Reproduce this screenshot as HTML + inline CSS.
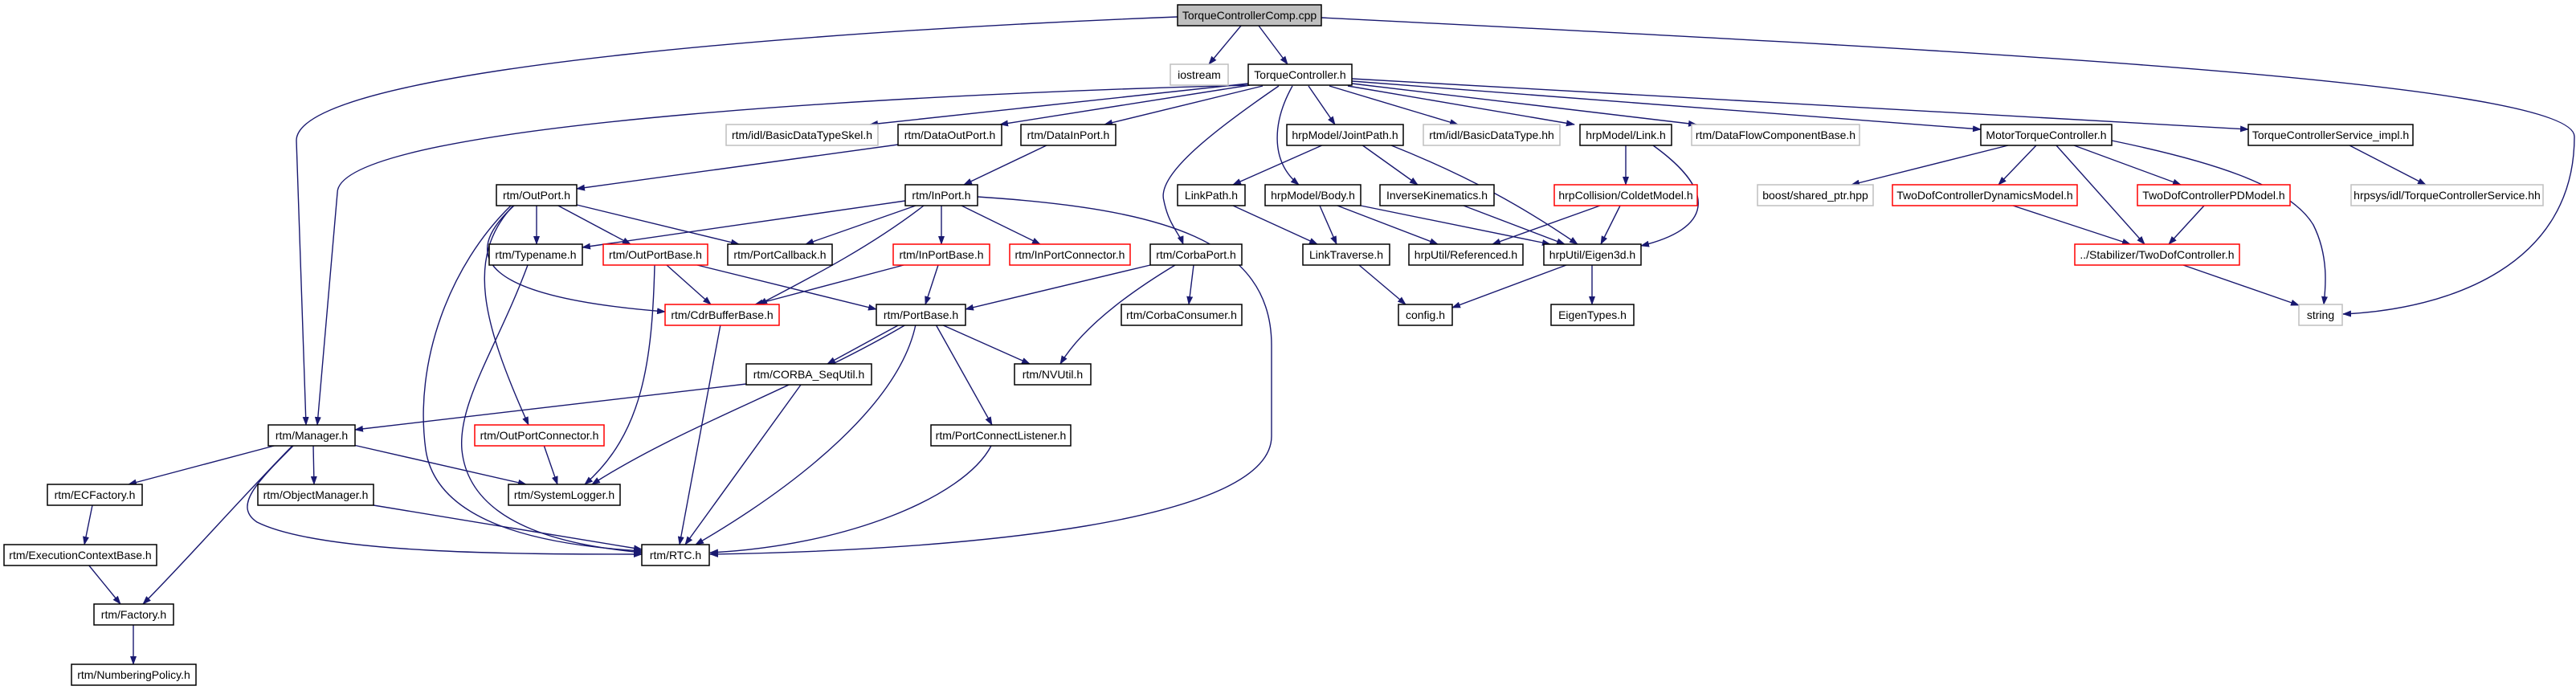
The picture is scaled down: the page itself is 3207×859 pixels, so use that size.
<!DOCTYPE html>
<html><head><meta charset="utf-8"><style>
html,body{margin:0;padding:0;background:#fff;}
svg{display:block}
text{font-family:"Liberation Sans",Arial,sans-serif;font-size:14px;fill:#000}
</style></head><body>
<svg width="3207" height="859" viewBox="0 0 3207 859" xmlns="http://www.w3.org/2000/svg">
<defs>
<marker id="a" markerWidth="11" markerHeight="8" refX="10" refY="4" orient="auto" markerUnits="userSpaceOnUse">
<path d="M0,0 L11,4 L0,8 z" fill="#191970"/>
</marker>
</defs>
<g fill="none" stroke="#191970" stroke-width="1.4" marker-end="url(#a)">
<path d="M1545,32 L1505,80"/>
<path d="M1567,32 L1603,80"/>
<path d="M1466,21 C1100,35 369,80 369,175 L381,529"/>
<path d="M1554,106 C1200,115 420,150 420,240 L395,529"/>
<path d="M1645,22 C2400,60 3205,100 3205,170 C3205,330 3050,385 2917,391"/>
<path d="M1554,104 L1083,155"/>
<path d="M1556,106 L1245,155"/>
<path d="M1572,107 L1375,155"/>
<path d="M1592,107 C1500,170 1440,220 1449,250 C1455,280 1468,290 1473,304"/>
<path d="M1609,107 C1585,150 1580,200 1617,230"/>
<path d="M1629,107 L1662,155"/>
<path d="M1655,107 L1815,155"/>
<path d="M1678,107 L1960,155"/>
<path d="M1683,104 L2112,155"/>
<path d="M1683,101 L2466,161"/>
<path d="M1683,98 L2799,161"/>
<path d="M1118,180 L718,235"/>
<path d="M1305,180 L1200,230"/>
<path d="M668,255 L668,304"/>
<path d="M693,255 L785,304"/>
<path d="M718,255 L920,304"/>
<path d="M640,256 C570,320 600,370 828,388"/>
<path d="M636,256 C560,330 515,450 530,560 C545,660 700,680 799,686"/>
<path d="M657,330 C620,430 570,500 575,560 C585,660 720,680 799,688"/>
<path d="M638,257 C580,320 600,400 658,529"/>
<path d="M830,330 L885,379"/>
<path d="M868,330 L1091,385"/>
<path d="M815,330 C812,450 800,540 728,603"/>
<path d="M897,404 L846,678"/>
<path d="M1127,250 L725,308"/>
<path d="M1140,256 L1003,304"/>
<path d="M1150,256 C1080,310 1000,350 945,379"/>
<path d="M1125,330 L940,379"/>
<path d="M1172,256 L1172,304"/>
<path d="M1197,256 L1295,304"/>
<path d="M1217,245 C1450,260 1583,300 1583,430 L1583,543 C1583,650 1200,685 884,690"/>
<path d="M1168,330 L1152,379"/>
<path d="M1432,330 L1202,385"/>
<path d="M1486,330 L1480,379"/>
<path d="M1463,330 C1380,380 1340,420 1320,453"/>
<path d="M1120,404 L1030,453"/>
<path d="M1172,404 L1282,453"/>
<path d="M1165,404 L1235,529"/>
<path d="M1140,404 C1120,500 1000,600 866,678"/>
<path d="M1128,404 C1000,480 850,530 737,603"/>
<path d="M929,478 L442,535"/>
<path d="M997,479 L853,678"/>
<path d="M1234,555 C1200,620 1050,680 884,688"/>
<path d="M345,554 L160,603"/>
<path d="M390,554 L391,603"/>
<path d="M440,554 L655,603"/>
<path d="M365,554 C300,620 230,700 178,752"/>
<path d="M366,554 C320,600 290,630 320,650 C400,690 650,690 799,690"/>
<path d="M465,629 L799,684"/>
<path d="M677,554 L694,603"/>
<path d="M115,629 L105,678"/>
<path d="M110,703 L150,752"/>
<path d="M166,778 L166,827"/>
<path d="M1648,180 L1535,230"/>
<path d="M1695,180 L1765,230"/>
<path d="M1732,181 C1830,220 1900,260 1964,304"/>
<path d="M2024,181 L2024,230"/>
<path d="M2058,181 C2140,240 2130,285 2043,306"/>
<path d="M1535,256 L1640,304"/>
<path d="M1643,256 L1664,304"/>
<path d="M1665,256 L1790,304"/>
<path d="M1694,256 L1930,304"/>
<path d="M1822,256 L1948,304"/>
<path d="M1992,256 L1858,304"/>
<path d="M2017,256 L1993,304"/>
<path d="M1692,330 L1750,379"/>
<path d="M1950,330 L1808,383"/>
<path d="M1982,330 L1982,379"/>
<path d="M2500,181 L2305,230"/>
<path d="M2535,181 L2488,230"/>
<path d="M2560,181 L2670,304"/>
<path d="M2582,181 L2715,230"/>
<path d="M2629,175 C2750,200 2850,230 2880,280 C2900,320 2895,360 2893,379"/>
<path d="M2506,256 L2652,304"/>
<path d="M2744,256 L2700,304"/>
<path d="M2718,330 L2862,380"/>
<path d="M2925,181 L3020,230"/>
</g>
<g stroke-width="1.5">
<!-- row0 -->
<rect x="1466" y="6" width="179" height="26" fill="#bfbfbf" stroke="#000"/><text x="1555.5" y="24" text-anchor="middle">TorqueControllerComp.cpp</text>
<!-- row1 -->
<rect x="1457" y="80" width="72" height="26" fill="#fff" stroke="#bfbfbf"/><text x="1493" y="98" text-anchor="middle">iostream</text>
<rect x="1554" y="80" width="129" height="26" fill="#fff" stroke="#000"/><text x="1618.5" y="98" text-anchor="middle">TorqueController.h</text>
<!-- row2 -->
<rect x="904" y="155" width="189" height="26" fill="#fff" stroke="#bfbfbf"/><text x="998.5" y="173" text-anchor="middle">rtm/idl/BasicDataTypeSkel.h</text>
<rect x="1118" y="155" width="129" height="26" fill="#fff" stroke="#000"/><text x="1182.5" y="173" text-anchor="middle">rtm/DataOutPort.h</text>
<rect x="1271" y="155" width="118" height="26" fill="#fff" stroke="#000"/><text x="1330" y="173" text-anchor="middle">rtm/DataInPort.h</text>
<rect x="1602" y="155" width="145" height="26" fill="#fff" stroke="#000"/><text x="1674.5" y="173" text-anchor="middle">hrpModel/JointPath.h</text>
<rect x="1772" y="155" width="170" height="26" fill="#fff" stroke="#bfbfbf"/><text x="1857" y="173" text-anchor="middle">rtm/idl/BasicDataType.hh</text>
<rect x="1967" y="155" width="114" height="26" fill="#fff" stroke="#000"/><text x="2024" y="173" text-anchor="middle">hrpModel/Link.h</text>
<rect x="2106" y="155" width="209" height="26" fill="#fff" stroke="#bfbfbf"/><text x="2210.5" y="173" text-anchor="middle">rtm/DataFlowComponentBase.h</text>
<rect x="2466" y="155" width="163" height="26" fill="#fff" stroke="#000"/><text x="2547.5" y="173" text-anchor="middle">MotorTorqueController.h</text>
<rect x="2799" y="155" width="205" height="26" fill="#fff" stroke="#000"/><text x="2901.5" y="173" text-anchor="middle">TorqueControllerService_impl.h</text>
<!-- row3 -->
<rect x="618" y="230" width="100" height="26" fill="#fff" stroke="#000"/><text x="668" y="248" text-anchor="middle">rtm/OutPort.h</text>
<rect x="1127" y="230" width="90" height="26" fill="#fff" stroke="#000"/><text x="1172" y="248" text-anchor="middle">rtm/InPort.h</text>
<rect x="1466" y="230" width="84" height="26" fill="#fff" stroke="#000"/><text x="1508" y="248" text-anchor="middle">LinkPath.h</text>
<rect x="1575" y="230" width="119" height="26" fill="#fff" stroke="#000"/><text x="1634.5" y="248" text-anchor="middle">hrpModel/Body.h</text>
<rect x="1718" y="230" width="142" height="26" fill="#fff" stroke="#000"/><text x="1789" y="248" text-anchor="middle">InverseKinematics.h</text>
<rect x="1935" y="230" width="178" height="26" fill="#fff" stroke="#ff0000"/><text x="2024" y="248" text-anchor="middle">hrpCollision/ColdetModel.h</text>
<rect x="2188" y="230" width="144" height="26" fill="#fff" stroke="#bfbfbf"/><text x="2260" y="248" text-anchor="middle">boost/shared_ptr.hpp</text>
<rect x="2356" y="230" width="230" height="26" fill="#fff" stroke="#ff0000"/><text x="2471" y="248" text-anchor="middle">TwoDofControllerDynamicsModel.h</text>
<rect x="2661" y="230" width="190" height="26" fill="#fff" stroke="#ff0000"/><text x="2756" y="248" text-anchor="middle">TwoDofControllerPDModel.h</text>
<rect x="2927" y="230" width="239" height="26" fill="#fff" stroke="#bfbfbf"/><text x="3046.5" y="248" text-anchor="middle">hrpsys/idl/TorqueControllerService.hh</text>
<!-- row4 -->
<rect x="609" y="304" width="116" height="26" fill="#fff" stroke="#000"/><text x="667" y="322" text-anchor="middle">rtm/Typename.h</text>
<rect x="751" y="304" width="130" height="26" fill="#fff" stroke="#ff0000"/><text x="816" y="322" text-anchor="middle">rtm/OutPortBase.h</text>
<rect x="906" y="304" width="130" height="26" fill="#fff" stroke="#000"/><text x="971" y="322" text-anchor="middle">rtm/PortCallback.h</text>
<rect x="1112" y="304" width="120" height="26" fill="#fff" stroke="#ff0000"/><text x="1172" y="322" text-anchor="middle">rtm/InPortBase.h</text>
<rect x="1257" y="304" width="150" height="26" fill="#fff" stroke="#ff0000"/><text x="1332" y="322" text-anchor="middle">rtm/InPortConnector.h</text>
<rect x="1432" y="304" width="114" height="26" fill="#fff" stroke="#000"/><text x="1489" y="322" text-anchor="middle">rtm/CorbaPort.h</text>
<rect x="1622" y="304" width="108" height="26" fill="#fff" stroke="#000"/><text x="1676" y="322" text-anchor="middle">LinkTraverse.h</text>
<rect x="1754" y="304" width="142" height="26" fill="#fff" stroke="#000"/><text x="1825" y="322" text-anchor="middle">hrpUtil/Referenced.h</text>
<rect x="1922" y="304" width="121" height="26" fill="#fff" stroke="#000"/><text x="1982.5" y="322" text-anchor="middle">hrpUtil/Eigen3d.h</text>
<rect x="2583" y="304" width="205" height="26" fill="#fff" stroke="#ff0000"/><text x="2685.5" y="322" text-anchor="middle">../Stabilizer/TwoDofController.h</text>
<!-- row5 -->
<rect x="828" y="379" width="142" height="26" fill="#fff" stroke="#ff0000"/><text x="899" y="397" text-anchor="middle">rtm/CdrBufferBase.h</text>
<rect x="1091" y="379" width="111" height="26" fill="#fff" stroke="#000"/><text x="1146.5" y="397" text-anchor="middle">rtm/PortBase.h</text>
<rect x="1396" y="379" width="150" height="26" fill="#fff" stroke="#000"/><text x="1471" y="397" text-anchor="middle">rtm/CorbaConsumer.h</text>
<rect x="1741" y="379" width="67" height="26" fill="#fff" stroke="#000"/><text x="1774.5" y="397" text-anchor="middle">config.h</text>
<rect x="1931" y="379" width="103" height="26" fill="#fff" stroke="#000"/><text x="1982.5" y="397" text-anchor="middle">EigenTypes.h</text>
<rect x="2862" y="379" width="54" height="26" fill="#fff" stroke="#bfbfbf"/><text x="2889" y="397" text-anchor="middle">string</text>
<!-- row6 -->
<rect x="929" y="453" width="156" height="26" fill="#fff" stroke="#000"/><text x="1007" y="471" text-anchor="middle">rtm/CORBA_SeqUtil.h</text>
<rect x="1263" y="453" width="95" height="26" fill="#fff" stroke="#000"/><text x="1310.5" y="471" text-anchor="middle">rtm/NVUtil.h</text>
<!-- row7 -->
<rect x="334" y="529" width="108" height="26" fill="#fff" stroke="#000"/><text x="388" y="547" text-anchor="middle">rtm/Manager.h</text>
<rect x="591" y="529" width="161" height="26" fill="#fff" stroke="#ff0000"/><text x="671.5" y="547" text-anchor="middle">rtm/OutPortConnector.h</text>
<rect x="1159" y="529" width="174" height="26" fill="#fff" stroke="#000"/><text x="1246" y="547" text-anchor="middle">rtm/PortConnectListener.h</text>
<!-- row8 -->
<rect x="59" y="603" width="118" height="26" fill="#fff" stroke="#000"/><text x="118" y="621" text-anchor="middle">rtm/ECFactory.h</text>
<rect x="321" y="603" width="144" height="26" fill="#fff" stroke="#000"/><text x="393" y="621" text-anchor="middle">rtm/ObjectManager.h</text>
<rect x="633" y="603" width="139" height="26" fill="#fff" stroke="#000"/><text x="702.5" y="621" text-anchor="middle">rtm/SystemLogger.h</text>
<!-- row9 -->
<rect x="5" y="678" width="190" height="26" fill="#fff" stroke="#000"/><text x="100" y="696" text-anchor="middle">rtm/ExecutionContextBase.h</text>
<rect x="799" y="678" width="84" height="26" fill="#fff" stroke="#000"/><text x="841" y="696" text-anchor="middle">rtm/RTC.h</text>
<!-- row10 -->
<rect x="117" y="752" width="99" height="26" fill="#fff" stroke="#000"/><text x="166.5" y="770" text-anchor="middle">rtm/Factory.h</text>
<!-- row11 -->
<rect x="89" y="827" width="155" height="26" fill="#fff" stroke="#000"/><text x="166.5" y="845" text-anchor="middle">rtm/NumberingPolicy.h</text>
</g>
</svg>
</body></html>
